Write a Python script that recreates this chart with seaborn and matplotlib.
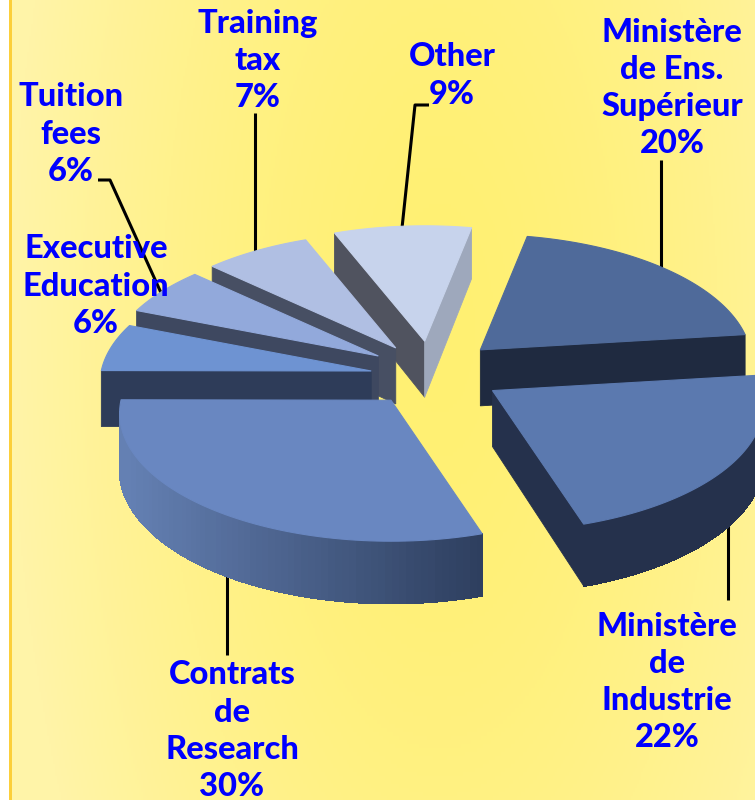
import numpy as np
import matplotlib
matplotlib.use("Agg")
import matplotlib.pyplot as plt
import seaborn as sns

# ---- data ----
names = ["Ministère\nde Ens.\nSupérieur", "Ministère\nde\nIndustrie", "Contrats\nde\nResearch",
         "Tuition\nfees", "Executive\nEducation", "Training\ntax", "Other"]
shares = [20, 22, 30, 6, 6, 7, 9]

# ---- style / layout ----
explode = [80, 80, 55, 56, 56, 55, 72]
nudge = [(-2, 3), (-1, -2), (-1, 7), (1, 4), (0, -2), (1, -3), (6, 2)]
top_colors = ["#4f6a9a", "#5b79af", "#6987c1", "#6e93d2", "#92a9db", "#b0bfe3", "#c7d3ec"]
wall_colors = ["#1f2a40", "#25314c", "#2e3f5f", "#2e3c59", "#3e4860", "#474f63", "#50535f"]
end_wall_colors = ["#1f2a40", "#25314c", "#2e3f5f", "#2e3c59", "#3e4860", "#474f63", "#9ea8bc"]
draw_order = [6, 5, 4, 3, 0, 1, 2]
label_pos = [(672, 32), (667, 626), (232, 675), (71, 97), (96, 249), (258, 23), (452, 57)]
leaders = [[(661, 160), (661, 270)], [(728, 520), (728, 600)], [(227, 570), (227, 655)],
           [(98, 180), (110, 180), (162, 295)], None, [(255, 113), (255, 252)],
           [(429, 105), (415, 105), (402, 228)]]
CX, CY, R, K, P, DEPTH, START = 425, 372, 270, 0.47, 0.10, 56, 11

sns.set_theme(style="white")
plt.rcParams["font.family"] = ["Lato", "DejaVu Sans"]

fig = plt.figure(figsize=(7.55, 8.0), dpi=100, facecolor="white")
ax = fig.add_axes([0, 0, 1, 1])
ax.set_xlim(0, 755)
ax.set_ylim(800, 0)
ax.axis("off")

# background
yy, xx = np.mgrid[0:800:200j, 11:755:372j]
d = np.clip(np.hypot((xx - 440) / 430, (yy - 330) / 1000), 0, 1) ** 1.6
c0, c1 = np.array([255, 240, 114]) / 255, np.array([255, 244, 168]) / 255
bg = c0 + d[..., None] * (c1 - c0)
ax.imshow(bg, extent=(11, 755, 800, 0), aspect="auto", zorder=0)
ax.set_xlim(0, 755)
ax.set_ylim(800, 0)
ax.axvspan(8.5, 11.5, color="#fccf3a", lw=0, zorder=1)


def proj(theta, radius):
    """Project a polar point in the pie plane, relative to the pie apex."""
    t = np.radians(theta)
    c = np.cos(t) * radius / R
    s = 1 / (1 + P * c)
    return radius * np.sin(t) * s, -radius * np.cos(t) * K * s, DEPTH * s


edges = START + np.concatenate([[0], np.cumsum(shares)]) * 3.6
rim_cmap = sns.blend_palette(["#6480b3", "#2e3f5f"], 64)


def cross(a, b):
    return a[0] * b[1] - a[1] * b[0]


for i in draw_order:
    t0, t1 = edges[i], edges[i + 1]
    mid = (t0 + t1) / 2
    ex, ey, _ = proj(mid, explode[i])
    ax0, ay0 = CX + ex + nudge[i][0], CY + ey + nudge[i][1]
    ths = np.linspace(t0, t1, 80)
    pts = [proj(t, R) for t in ths]
    px = ax0 + np.array([p[0] for p in pts])
    py = ay0 + np.array([p[1] for p in pts])
    ds = np.array([p[2] for p in pts])
    apex_d = DEPTH
    z = 3 + draw_order.index(i)
    m = (px[40] - ax0, py[40] - ay0)
    # radial walls
    for idx, col in ((0, wall_colors[i]), (-1, end_wall_colors[i])):
        v = (px[idx] - ax0, py[idx] - ay0)
        if cross(v, (0, 1)) * cross(v, m) < 0:
            ax.fill([ax0, px[idx], px[idx], ax0],
                    [ay0, py[idx], py[idx] + ds[idx], ay0 + apex_d],
                    color=col, lw=0.6, zorder=z)
    # outer rim
    for j in range(len(ths) - 1):
        v = (px[j + 1] - px[j], py[j + 1] - py[j])
        inward = (ax0 - px[j], ay0 - py[j])
        if cross(v, (0, 1)) * cross(v, inward) < 0:
            if i == 2:
                f = np.clip((px[j] - 125) / 355, 0, 1)
                col = rim_cmap[int(f * 63)]
            else:
                col = wall_colors[i]
            ax.fill([px[j], px[j + 1], px[j + 1], px[j]],
                    [py[j], py[j + 1], py[j + 1] + ds[j + 1], py[j] + ds[j]],
                    color=col, lw=0.8, antialiased=False, zorder=z)
    # top face
    ax.fill(np.r_[ax0, px], np.r_[ay0, py], facecolor=top_colors[i],
            edgecolor=top_colors[i], lw=0.8, zorder=z + 0.5)

# leader lines
for ln in leaders:
    if ln:
        xs, ys = zip(*ln)
        ax.plot(xs, ys, color="black", lw=2.2, solid_capstyle="butt", zorder=2)

# labels
for name, share, (x, y) in zip(names, shares, label_pos):
    for k, line in enumerate((name + f"\n{share}%").split("\n")):
        ax.text(x, y + k * 37.2, line, ha="center", va="center", color="#0000ff",
                fontsize=23.5, fontweight=900, zorder=20)

fig.savefig("out.png", dpi=100)
